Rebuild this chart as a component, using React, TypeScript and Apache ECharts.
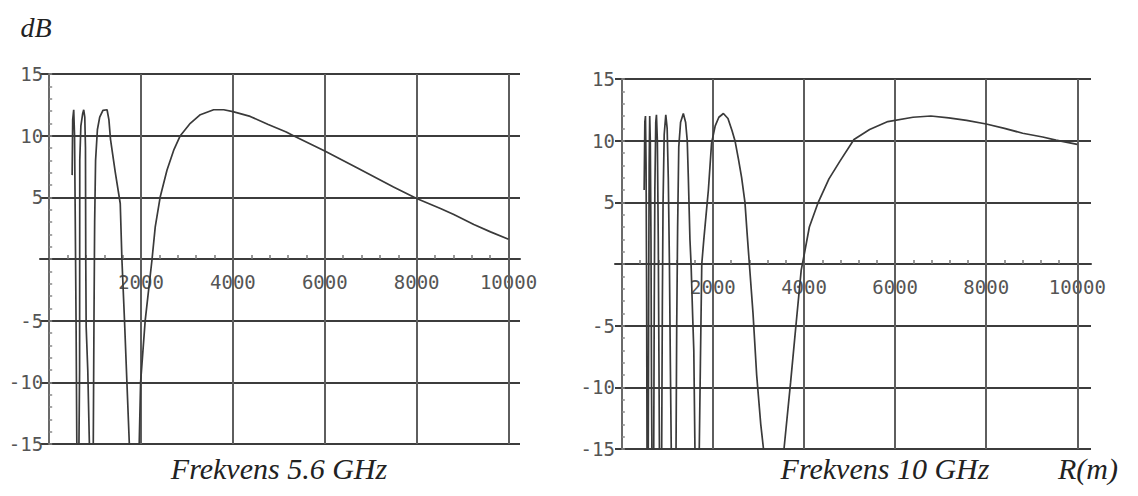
import { useEffect, useRef } from 'react';
import * as echarts from 'echarts';

// Received level (dB) against distance R (m), 5.6 GHz link
const DIST_56 = [
  500, 512, 534, 552, 568, 585, 600, 630, 648, 662, 666, 690, 730, 752, 775, 790, 796, 805, 840, 875,
  945, 960, 975, 990, 1010, 1050, 1100, 1170, 1260, 1300, 1335, 1440, 1547, 1583, 1640, 1692, 1745, 1870,
  1960, 1990, 2090, 2237, 2309, 2418, 2564, 2709, 2854, 3072, 3290, 3580, 3800, 4000, 4376, 4769, 5161,
  5318, 6000, 6721, 7496, 8000, 8518, 8809, 9245, 9608, 10000,
];
const GAIN_56 = [
  6.8, 11.3, 12.1, 10, 3, -5, -14, -30, -15, -9, 8, 10.8, 11.8, 12.1, 11.5, 9, 0, -5.5, -9, -15,
  -30, -15, -5, 3, 8, 10.5, 11.5, 12.05, 12.1, 11.3, 9.7, 7, 4.5, 0, -5, -10, -15, -30,
  -15, -10, -5, -0.1, 2.6, 5.05, 7.2, 8.8, 10, 11, 11.7, 12.1, 12.1, 11.95, 11.56, 10.9, 10.3,
  10, 8.75, 7.36, 5.83, 4.9, 4.1, 3.6, 2.8, 2.2, 1.6,
];

// Received level (dB) against distance R (m), 10 GHz link
const DIST_10 = [
  490, 505, 519, 532, 545, 553, 562,
  580, 590, 600, 612, 625, 640, 652, 660, 674,
  700, 712, 725, 745, 760, 780, 800, 815, 825, 843,
  875, 890, 905, 930, 965, 995, 1020, 1045, 1065, 1085, 1124,
  1190, 1205, 1225, 1250, 1290, 1350, 1400, 1436, 1460, 1495, 1520, 1553, 1580, 1605, 1686,
  1700, 1725, 1755, 1800, 1850, 1900, 1970, 2050, 2130, 2230, 2330, 2420, 2484, 2560, 2630, 2703,
  2750, 2800, 2880, 2960, 3050, 3110, 3372,
  3560, 3705, 3822, 3938, 4016, 4117, 4312, 4547, 4782, 5096, 5440, 5840, 6392, 6784, 7176, 7569,
  8000, 8400, 8800, 9240, 9530, 10000,
];
const GAIN_10 = [
  6, 11.5, 12, 8, -3, -15, -30,
  -15, -2, 8, 12, 10, 2, -10, -15, -30,
  -15, -3, 6, 11.5, 12.1, 10, 2, -8, -15, -30,
  -15, -3, 5, 10.5, 12.1, 11, 7, 0, -8, -15, -30,
  -15, -5, 3, 9.5, 11.5, 12.2, 11.5, 10, 7, 2, 0, -4, -7, -15, -30,
  -15, -8, 0, 2, 4, 6, 9.8, 11.2, 11.9, 12.2, 11.8, 10.8, 10, 8.5, 7, 5,
  2.5, 0, -4, -9, -13, -15, -30,
  -15, -9.6, -5, -0.5, 1, 3, 5, 6.9, 8.3, 10.1, 10.9, 11.55, 11.9, 12, 11.85, 11.65,
  11.35, 11, 10.6, 10.3, 10.05, 9.7,
];

const X_LABELS = [2000, 4000, 6000, 8000, 10000];
const X_MINOR = [
  400, 800, 1200, 1600, 2000, 2400, 2800, 3200, 3600, 4000, 4400, 4800, 5200, 5600, 6000,
  6400, 6800, 7200, 7600, 8000, 8400, 8800, 9200, 9600, 10000,
];
const Y_LABELS = [-15, -10, -5, 5, 10, 15];
const CAPTIONS = ['Frekvens 5.6 GHz', 'Frekvens 10 GHz'];

const pairs = (d: number[], g: number[]) => d.map((r, i) => [r, g[i]]);

const TICK_FONT = {
  fontFamily: '"DejaVu Sans Mono", monospace',
  fontSize: 19,
  color: '#555',
};
const SERIF = '"Liberation Serif", "Times New Roman", serif';

// Both panels share this frame: R from xMin to xMax, level from -15 to 15 dB
const Y_MIN = -15;
const Y_MAX = 15;

type Panel = { left: number; top: number; width: number; height: number; xMin: number; xMax: number };

const PANELS: Panel[] = [
  { left: 40, top: 74, width: 480, height: 370, xMin: -200, xMax: 10250 },
  { left: 615, top: 79, width: 476, height: 370, xMin: -150, xMax: 10300 },
];

function xAxisFor(i: number, p: Panel) {
  // the R axis sits on the 0 dB line
  const zeroFromBottom = (p.height * (0 - Y_MIN)) / (Y_MAX - Y_MIN);
  return {
    type: 'value',
    gridIndex: i,
    min: p.xMin,
    max: p.xMax,
    position: 'bottom',
    offset: -zeroFromBottom,
    axisLine: { show: true, onZero: false, lineStyle: { color: '#3c3c3c', width: 2 } },
    axisTick: {
      show: true,
      inside: true,
      length: 4,
      customValues: X_MINOR,
      lineStyle: { color: '#777', width: 1.5 },
    },
    axisLabel: {
      show: true,
      customValues: X_LABELS,
      formatter: (v: number) => String(v),
      margin: 13,
      ...TICK_FONT,
    },
    splitLine: { show: false },
  };
}

function yAxisFor(i: number, p: Panel, margin: number) {
  // the dB axis sits on R = 0
  const zeroFromLeft = (p.width * (0 - p.xMin)) / (p.xMax - p.xMin);
  return {
    type: 'value',
    gridIndex: i,
    min: Y_MIN,
    max: Y_MAX,
    interval: 5,
    position: 'left',
    offset: -zeroFromLeft,
    axisLine: { show: true, onZero: false, lineStyle: { color: '#6a6a6a', width: 2 } },
    axisTick: { show: true, inside: true, length: 3, lineStyle: { color: '#888', width: 1.5 } },
    minorTick: { show: true, splitNumber: 5, length: 3, lineStyle: { color: '#888', width: 1.5 } },
    axisLabel: {
      show: true,
      customValues: Y_LABELS,
      formatter: (v: number) => (v === 0 ? '' : String(v)),
      margin,
      ...TICK_FONT,
    },
    splitLine: { show: true, lineStyle: { color: '#3c3c3c', width: 2 } },
  };
}

function curveSeries(i: number, d: number[], g: number[]) {
  return {
    type: 'line',
    xAxisIndex: i,
    yAxisIndex: i,
    data: pairs(d, g),
    symbol: 'none',
    showSymbol: false,
    clip: true,
    silent: true,
    z: 3,
    lineStyle: { color: '#3a3a3a', width: 1.7 },
    markLine: {
      silent: true,
      symbol: 'none',
      label: { show: false },
      z: 1,
      lineStyle: { color: '#5e5e5e', width: 2, type: 'solid' },
      data: X_LABELS.map((v) => ({ xAxis: v })),
    },
  };
}

export default function App() {
  const ref = useRef<HTMLDivElement>(null);

  useEffect(() => {
    if (!ref.current) return;
    const chart = echarts.init(ref.current, undefined, { renderer: 'svg' });
    chart.setOption({
      animation: false,
      backgroundColor: '#ffffff',
      grid: PANELS.map((p) => ({ left: p.left, top: p.top, width: p.width, height: p.height })),
      xAxis: PANELS.map((p, i) => xAxisFor(i, p)),
      yAxis: [yAxisFor(0, PANELS[0], 6), yAxisFor(1, PANELS[1], 7)],
      series: [curveSeries(0, DIST_56, GAIN_56), curveSeries(1, DIST_10, GAIN_10)],
      graphic: [
        {
          type: 'text',
          x: 36,
          y: 27,
          style: { text: 'dB', font: `italic 28px ${SERIF}`, fill: '#222', align: 'center', verticalAlign: 'middle' },
        },
        {
          type: 'text',
          x: 279,
          y: 468,
          style: { text: CAPTIONS[0], font: `italic 30px ${SERIF}`, fill: '#222', align: 'center', verticalAlign: 'middle' },
        },
        {
          type: 'text',
          x: 885,
          y: 468,
          style: { text: CAPTIONS[1], font: `italic 30px ${SERIF}`, fill: '#222', align: 'center', verticalAlign: 'middle' },
        },
        {
          type: 'text',
          x: 1088,
          y: 468,
          style: { text: 'R(m)', font: `italic 30px ${SERIF}`, fill: '#222', align: 'center', verticalAlign: 'middle' },
        },
      ],
    });
    return () => chart.dispose();
  }, []);

  return (
    <div
      ref={ref}
      style={{ position: 'fixed', left: 0, top: 0, width: 1138, height: 496, background: '#fff' }}
    />
  );
}
